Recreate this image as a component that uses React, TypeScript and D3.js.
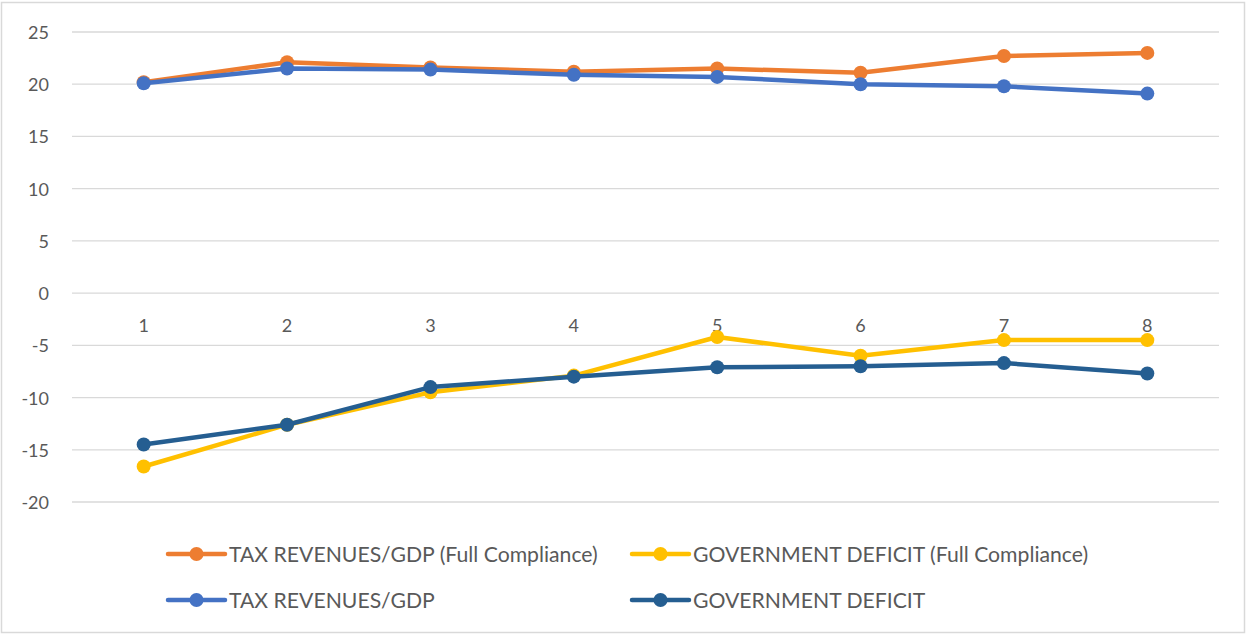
import React from "react";
import * as d3 from "d3";

const categories = ["1", "2", "3", "4", "5", "6", "7", "8"];
const yTicks = [25, 20, 15, 10, 5, 0, -5, -10, -15, -20];

const taxRevenuesFull = [20.2, 22.1, 21.6, 21.2, 21.5, 21.1, 22.7, 23.0];
const deficitFull = [-16.6, -12.6, -9.5, -7.9, -4.2, -6.0, -4.5, -4.5];
const taxRevenues = [20.1, 21.5, 21.4, 20.9, 20.7, 20.0, 19.8, 19.1];
const deficit = [-14.5, -12.6, -9.0, -8.0, -7.1, -7.0, -6.7, -7.7];

const seriesNames = [
  "TAX REVENUES/GDP (Full Compliance)",
  "GOVERNMENT DEFICIT (Full Compliance)",
  "TAX REVENUES/GDP",
  "GOVERNMENT DEFICIT",
];
const seriesColors = ["#ED7D31", "#FFC000", "#4472C4", "#255E91"];
const seriesValues = [taxRevenuesFull, deficitFull, taxRevenues, deficit];

const W = 1249;
const H = 635;
const FONT = "Lato, 'Open Sans', sans-serif";
const TEXT = "#595959";
const GRID = "#D9D9D9";

export default function App() {
  const x = d3.scaleBand<string>().domain(categories).range([72, 1219]).padding(0);
  const y = d3.scaleLinear().domain([-20, 25]).range([502, 32]);
  const cx = (c: string) => (x(c) as number) + x.bandwidth() / 2;

  const line = d3
    .line<number>()
    .x((_, i) => cx(categories[i]))
    .y((v) => y(v));

  const legendRows = [
    { y: 554, items: [0, 1] },
    { y: 600, items: [2, 3] },
  ];
  const legendCols = [168, 632];

  return (
    <>
      <style>{"body{margin:0}"}</style>
      <svg width={W} height={H} style={{ display: "block", background: "#fff" }}>
        <rect x={1.5} y={2.5} width={1243} height={630} fill="#fff" stroke={GRID} strokeWidth={1.5} />

        {yTicks.map((t) => (
          <g key={t}>
            <line x1={72} x2={1219} y1={y(t)} y2={y(t)} stroke={GRID} strokeWidth={1.3} />
            <text
              x={49}
              y={y(t)}
              textAnchor="end"
              dominantBaseline="central"
              fontFamily={FONT}
              fontSize={18}
              fill={TEXT}
            >
              {t}
            </text>
          </g>
        ))}

        {categories.map((c) => (
          <text
            key={c}
            x={cx(c)}
            y={y(0) + 32}
            textAnchor="middle"
            dominantBaseline="central"
            fontFamily={FONT}
            fontSize={18}
            fill={TEXT}
          >
            {c}
          </text>
        ))}

        {seriesValues.map((vals, si) => (
          <g key={si}>
            <path
              d={line(vals) || ""}
              fill="none"
              stroke={seriesColors[si]}
              strokeWidth={4.5}
              strokeLinejoin="round"
              strokeLinecap="round"
            />
            {vals.map((v, i) => (
              <circle key={i} cx={cx(categories[i])} cy={y(v)} r={7} fill={seriesColors[si]} />
            ))}
          </g>
        ))}

        {legendRows.map((row) =>
          row.items.map((si, ci) => {
            const lx = legendCols[ci];
            return (
              <g key={si}>
                <line
                  x1={lx}
                  x2={lx + 57}
                  y1={row.y}
                  y2={row.y}
                  stroke={seriesColors[si]}
                  strokeWidth={4.5}
                  strokeLinecap="round"
                />
                <circle cx={lx + 28.5} cy={row.y} r={7} fill={seriesColors[si]} />
                <text
                  x={lx + 61}
                  y={row.y}
                  dominantBaseline="central"
                  fontFamily={FONT}
                  fontSize={21.2}
                  fill={TEXT}
                >
                  {seriesNames[si]}
                </text>
              </g>
            );
          })
        )}
      </svg>
    </>
  );
}
